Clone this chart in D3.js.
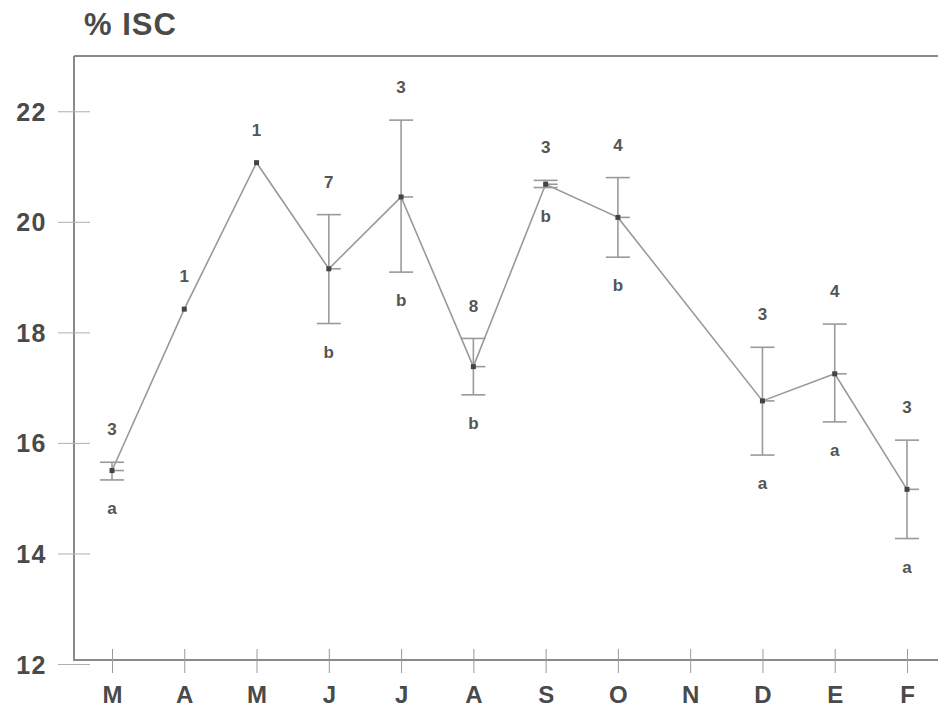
<!DOCTYPE html>
<html>
<head>
<meta charset="utf-8">
<script src="https://cdn.jsdelivr.net/npm/d3@7"></script>
<style>
  body { margin: 0; background: #fff; }
  text { font-family: "Liberation Sans", Arial, sans-serif; font-weight: bold; }
</style>
</head>
<body>
<div id="chart"></div>
<script>
'use strict';

// months, March .. February
var months = ["M", "A", "M", "J", "J", "A", "S", "O", "N", "D", "E", "F"];
// mean % ISC per month (null = no sample)
var means  = [15.5, 18.42, 21.07, 19.15, 20.45, 17.38, 20.68, 20.08, null, 16.76, 17.25, 15.16];
var upper  = [15.65, null, null, 20.13, 21.84, 17.89, 20.75, 20.8, null, 17.73, 18.15, 16.05];
var lower  = [15.33, null, null, 18.16, 19.09, 16.87, 20.62, 19.36, null, 15.78, 16.38, 14.27];
var nLabels = ["3", "1", "1", "7", "3", "8", "3", "4", "", "3", "4", "3"];
var letters = ["a", "", "", "b", "b", "b", "b", "b", "", "a", "a", "a"];
var yTicks = [12, 14, 16, 18, 20, 22];

var margin = { top: 56, right: 0, bottom: 53, left: 74 },
    width = 938 - margin.left - margin.right,
    height = 713 - margin.top - margin.bottom;

var x = d3.scalePoint()
    .domain(d3.range(months.length))
    .range([112 - margin.left, 907 - margin.left]);

var y = d3.scaleLinear()
    .domain([12, 23])
    .range([height + 4, 0]);

var svg = d3.select("#chart").append("svg")
    .attr("width", 938)
    .attr("height", 713);

svg.append("text")
    .attr("x", 84)
    .attr("y", 35)
    .style("font-size", "31px")
    .style("letter-spacing", "1px")
    .style("fill", "#4a4a4a")
    .text("% ISC");

var g = svg.append("g")
    .attr("transform", "translate(" + margin.left + "," + margin.top + ")");

// frame: top, left, bottom
g.append("line").attr("x1", 0).attr("x2", width).attr("y1", 0).attr("y2", 0)
    .style("stroke", "#8a8a8a").style("stroke-width", 2);
g.append("line").attr("x1", 0).attr("x2", 0).attr("y1", 0).attr("y2", height + 1)
    .style("stroke", "#8a8a8a").style("stroke-width", 2);
g.append("line").attr("x1", 0).attr("x2", width).attr("y1", height).attr("y2", height)
    .style("stroke", "#8a8a8a").style("stroke-width", 2);

// y ticks cross the axis
var yAxis = d3.axisLeft(y)
    .tickValues(yTicks)
    .tickSizeInner(-16)
    .tickSizeOuter(0)
    .tickPadding(11);

var ya = g.append("g")
    .attr("transform", "translate(-16,0)")
    .call(yAxis);
ya.select(".domain").remove();
ya.selectAll("line").style("stroke", "#b0b0b0").attr("x2", 32);
ya.selectAll("text")
    .style("font-size", "25px")
    .style("letter-spacing", "1.5px")
    .style("fill", "#4a4a4a")
    .attr("dy", "0.36em");

var xAxis = d3.axisBottom(x)
    .tickFormat(function (i) { return months[i]; })
    .tickSizeInner(12)
    .tickSizeOuter(0)
    .tickPadding(14);

var xa = g.append("g")
    .attr("transform", "translate(0," + height + ")")
    .call(xAxis);
xa.select(".domain").remove();
xa.selectAll("line").attr("y1", -11).attr("y2", 13).style("stroke", "#9a9a9a");
xa.selectAll("text")
    .style("font-size", "24px")
    .style("fill", "#4a4a4a")
    .attr("dy", "0.71em");

var pts = d3.range(months.length).filter(function (i) { return means[i] !== null; });

var line = d3.line()
    .x(function (i) { return x(i); })
    .y(function (i) { return y(means[i]); });

g.append("path")
    .datum(pts)
    .style("fill", "none")
    .style("stroke", "#999")
    .style("stroke-width", "1.6px")
    .attr("d", line);

var bars = pts.filter(function (i) { return upper[i] !== null; });

var eb = g.selectAll(".eb").data(bars).enter().append("g")
    .attr("class", "eb")
    .style("stroke", "#9a9a9a")
    .style("stroke-width", "1.6px");
eb.append("line")
    .attr("x1", function (i) { return x(i); }).attr("x2", function (i) { return x(i); })
    .attr("y1", function (i) { return y(upper[i]); }).attr("y2", function (i) { return y(lower[i]); });
eb.append("line")
    .attr("x1", function (i) { return x(i) - 12; }).attr("x2", function (i) { return x(i) + 12; })
    .attr("y1", function (i) { return y(upper[i]); }).attr("y2", function (i) { return y(upper[i]); });
eb.append("line")
    .attr("x1", function (i) { return x(i) - 12; }).attr("x2", function (i) { return x(i) + 12; })
    .attr("y1", function (i) { return y(lower[i]); }).attr("y2", function (i) { return y(lower[i]); });
eb.append("line")
    .attr("x1", function (i) { return x(i); }).attr("x2", function (i) { return x(i) + 12; })
    .attr("y1", function (i) { return y(means[i]); }).attr("y2", function (i) { return y(means[i]); });

g.selectAll(".pt").data(pts).enter().append("rect")
    .attr("class", "pt")
    .attr("x", function (i) { return x(i) - 2.5; })
    .attr("y", function (i) { return y(means[i]) - 2.5; })
    .attr("width", 5).attr("height", 5)
    .style("fill", "#444");

g.selectAll(".nlab").data(pts).enter().append("text")
    .attr("class", "nlab")
    .attr("x", function (i) { return x(i); })
    .attr("y", function (i) { return y(upper[i] !== null ? upper[i] : means[i]) - 33; })
    .attr("dy", "0.36em")
    .attr("text-anchor", "middle")
    .style("font-size", "17px")
    .style("fill", "#555")
    .text(function (i) { return nLabels[i]; });

g.selectAll(".let").data(pts.filter(function (i) { return letters[i] !== ""; })).enter().append("text")
    .attr("class", "let")
    .attr("x", function (i) { return x(i); })
    .attr("y", function (i) { return y(lower[i]) + 28; })
    .attr("dy", "0.36em")
    .attr("text-anchor", "middle")
    .style("font-size", "17px")
    .style("fill", "#555")
    .text(function (i) { return letters[i]; });
</script>
</body>
</html>
